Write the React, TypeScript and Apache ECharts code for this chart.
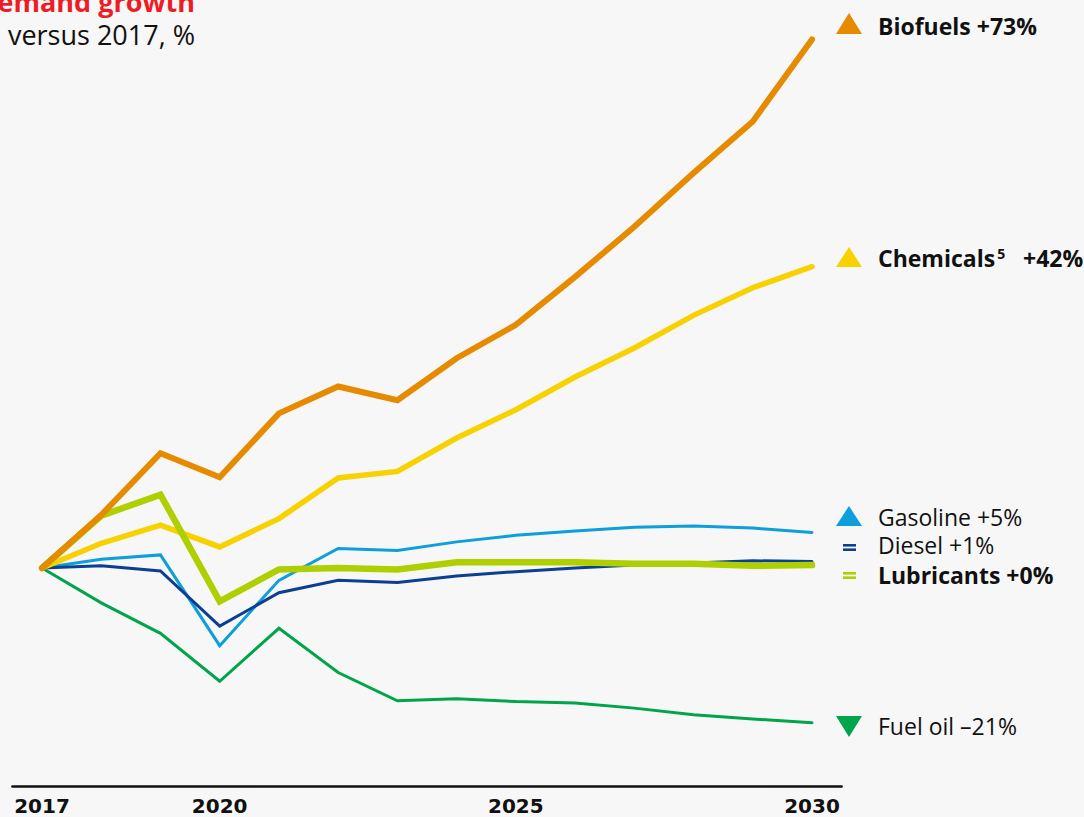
import React, { useEffect, useRef } from "react";
import * as echarts from "echarts";

// ---- Data ----
const years = [2017, 2018, 2019, 2020, 2021, 2022, 2023, 2024, 2025, 2026, 2027, 2028, 2029, 2030];
const xTickLabels = [2017, 2020, 2025, 2030];

const fuelOil = [0, -4.8, -9.0, -15.6, -8.3, -14.4, -18.3, -18.0, -18.4, -18.6, -19.3, -20.2, -20.8, -21.3];
const gasoline = [0, 1.2, 1.8, -10.7, -1.7, 2.7, 2.4, 3.6, 4.5, 5.1, 5.6, 5.8, 5.5, 4.9];
const diesel = [0, 0.3, -0.4, -8.0, -3.4, -1.7, -2.0, -1.1, -0.5, 0.0, 0.4, 0.7, 1.0, 0.9];
const chemicals = [0, 3.4, 5.9, 2.9, 6.8, 12.4, 13.3, 17.9, 21.8, 26.3, 30.3, 34.8, 38.6, 41.5];
const lubricants = [0, 7.2, 10.1, -4.6, -0.2, 0.0, -0.2, 0.8, 0.8, 0.8, 0.6, 0.6, 0.3, 0.4];
const biofuels = [0, 7.3, 15.8, 12.5, 21.3, 25.0, 23.1, 28.9, 33.5, 40.1, 47.0, 54.4, 61.5, 72.8];

const titleRed = "demand growth";
const subtitle = "versus 2017, %";

const legendNames = ["Biofuels", "Chemicals", "Gasoline", "Diesel", "Lubricants", "Fuel oil"];
const legendChanges = ["+73%", "+42%", "+5%", "+1%", "+0%", "–21%"];
const chemicalsNote = "5";

// ---- Styles ----
const C = {
  bg: "#f7f7f7",
  biofuels: "#e68a00",
  chemicals: "#f8d100",
  lubricants: "#b0cf00",
  gasoline: "#0d9fd9",
  diesel: "#0b3f92",
  fuelOil: "#00a44a",
  red: "#ee1c25",
  text: "#111111",
};
const FONT = "'Open Sans', 'Noto Sans', sans-serif";
const AXIS_FONT = "'DejaVu Sans', 'Open Sans', sans-serif";

export default function App() {
  const ref = useRef<HTMLDivElement>(null);

  useEffect(() => {
    if (!ref.current) return;
    const chart = echarts.init(ref.current, null, { renderer: "svg" });

    const pairs = (vals: number[]) => years.map((y, i) => [y, vals[i]]);
    const line = (name: string, vals: number[], color: string, width: number) => ({
      type: "line",
      name,
      data: pairs(vals),
      symbol: "none",
      lineStyle: { color, width, cap: "round", join: "miter" },
      itemStyle: { color },
      silent: true,
    });

    const legendCfg = [
      { y: 26, bold: true, color: C.biofuels, marker: "up", mTop: 13, mBot: 34 },
      { y: 258, bold: true, color: C.chemicals, marker: "up", mTop: 247, mBot: 267 },
      { y: 517, bold: false, color: C.gasoline, marker: "up", mTop: 506, mBot: 526 },
      { y: 545, bold: false, color: C.diesel, marker: "eq", mTop: 544, mBot: 551 },
      { y: 575, bold: true, color: C.lubricants, marker: "eq", mTop: 572, mBot: 579 },
      { y: 726, bold: false, color: C.fuelOil, marker: "down", mTop: 716, mBot: 737 },
    ];

    const graphics: any[] = [];
    graphics.push({
      type: "text",
      x: 195,
      y: 1,
      style: {
        text: titleRed,
        align: "right",
        verticalAlign: "middle",
        fontSize: 27,
        lineHeight: 24,
        fontWeight: "bold",
        fontFamily: FONT,
        fill: C.red,
      },
    });
    graphics.push({
      type: "text",
      x: 195,
      y: 34,
      style: {
        text: subtitle,
        align: "right",
        verticalAlign: "middle",
        fontSize: 27,
        lineHeight: 24,
        fontFamily: FONT,
        fill: C.text,
      },
    });

    legendCfg.forEach((cfg, i) => {
      const xl = 836, xr = 862, xc = 849;
      if (cfg.marker === "up") {
        graphics.push({
          type: "polygon",
          shape: { points: [[xl, cfg.mBot], [xr, cfg.mBot], [xc, cfg.mTop]] },
          style: { fill: cfg.color },
        });
      } else if (cfg.marker === "down") {
        graphics.push({
          type: "polygon",
          shape: { points: [[xl, cfg.mTop], [xr, cfg.mTop], [xc, cfg.mBot]] },
          style: { fill: cfg.color },
        });
      } else {
        graphics.push({
          type: "rect",
          shape: { x: 843, y: cfg.mTop, width: 13, height: 2.6 },
          style: { fill: cfg.color },
        });
        graphics.push({
          type: "rect",
          shape: { x: 843, y: cfg.mBot - 2.6, width: 13, height: 2.6 },
          style: { fill: cfg.color },
        });
      }
      const weight = cfg.bold ? "bold" : "normal";
      if (i === 1) {
        graphics.push({
          type: "text",
          x: 878,
          y: cfg.y,
          style: {
            text: `{b|${legendNames[i]}}{s|${chemicalsNote}}{b|   ${legendChanges[i]}}`,
            verticalAlign: "middle",
            align: "left",
            fill: C.text,
            rich: {
              b: { fontSize: 23, fontWeight: "bold", fontFamily: FONT, fill: C.text, lineHeight: 24 },
              s: { fontSize: 14, fontWeight: "bold", fontFamily: FONT, fill: C.text, verticalAlign: "top", lineHeight: 15, padding: [0, 0, 0, 2] },
            },
          },
        });
      } else {
        graphics.push({
          type: "text",
          x: 878,
          y: cfg.y,
          style: {
            text: `${legendNames[i]} ${legendChanges[i]}`,
            verticalAlign: "middle",
            align: "left",
            fontSize: 23,
            lineHeight: 22,
            fontWeight: weight,
            fontFamily: FONT,
            fill: C.text,
          },
        });
      }
    });

    chart.setOption({
      animation: false,
      backgroundColor: C.bg,
      grid: { left: 12.4, right: 242.4, top: 23.5, bottom: 31.2 },
      xAxis: {
        type: "value",
        min: 2016.5,
        max: 2030.5,
        axisLine: { show: true, onZero: false, lineStyle: { color: "#111", width: 2.5 } },
        axisTick: { show: false },
        splitLine: { show: false },
        axisLabel: {
          customValues: xTickLabels,
          formatter: (v: number) => String(v),
          fontSize: 20,
          fontWeight: "bold",
          fontFamily: AXIS_FONT,
          color: C.text,
          margin: 10,
        },
      },
      yAxis: {
        type: "value",
        min: -30,
        max: 75,
        show: false,
        splitLine: { show: false },
      },
      series: [
        line("Fuel oil", fuelOil, C.fuelOil, 3),
        line("Gasoline", gasoline, C.gasoline, 3),
        line("Diesel", diesel, C.diesel, 3),
        line("Chemicals", chemicals, C.chemicals, 5.5),
        line("Lubricants", lubricants, C.lubricants, 6.5),
        line("Biofuels", biofuels, C.biofuels, 6),
      ],
      graphic: graphics,
    });

    return () => chart.dispose();
  }, []);

  return (
    <div
      ref={ref}
      style={{ position: "fixed", left: 0, top: 0, width: 1084, height: 817, background: C.bg }}
    />
  );
}
